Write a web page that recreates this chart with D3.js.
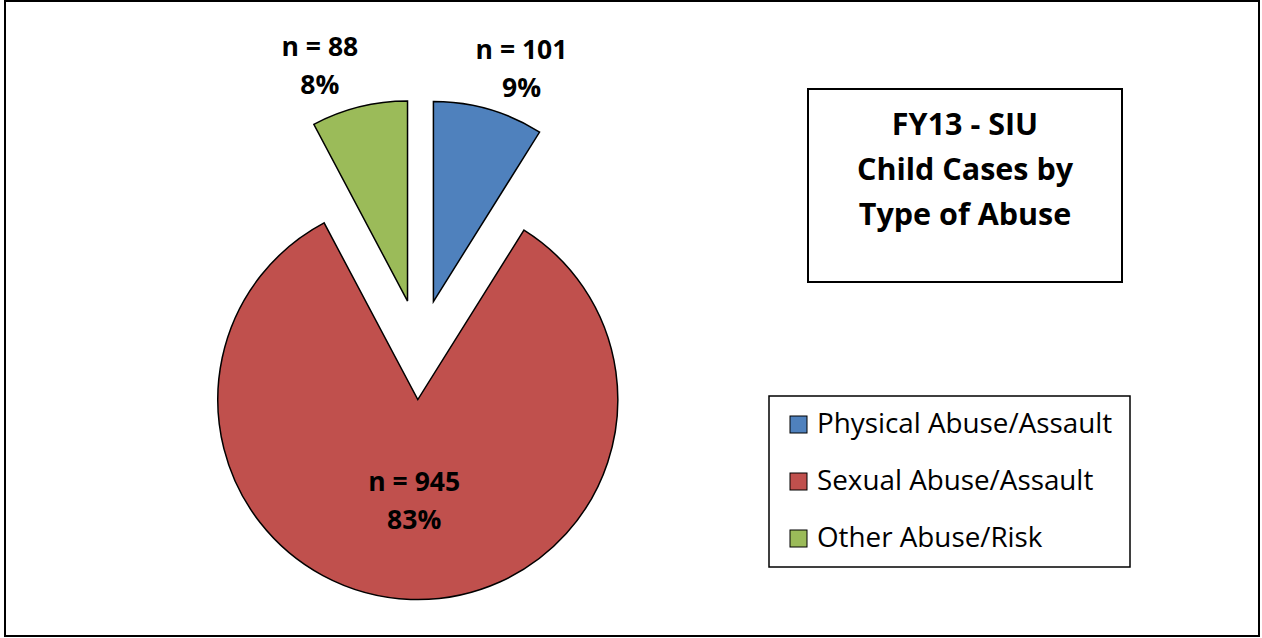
<!DOCTYPE html>
<html>
<head>
<meta charset="utf-8">
<script src="https://cdn.jsdelivr.net/npm/d3@7"></script>
<style>
  body { margin: 0; background: #fff; }
  text { font-family: "Open Sans", sans-serif; }
</style>
</head>
<body>
<div id="vis"></div>
<script>
// chart data
var categories = ['Physical Abuse/Assault', 'Sexual Abuse/Assault', 'Other Abuse/Risk'];
var counts = [101, 945, 88];
var percents = ['9%', '83%', '8%'];
var colors = ['#4F81BD', '#C0504D', '#9BBB59'];
var titleLines = ['FY13 - SIU', 'Child Cases by', 'Type of Abuse'];

var width = 1262;
var height = 638;

var svg = d3.select('#vis').append('svg')
  .attr('width', width)
  .attr('height', height);

// outer frame
svg.append('rect')
  .attr('x', 5).attr('y', 1)
  .attr('width', 1254).attr('height', 635)
  .attr('fill', '#fff')
  .attr('stroke', '#000')
  .attr('stroke-width', 2);

// pie settings
var center = {x: 419.6, y: 349.6};
var radius = 200;
var explode = 50;

var data = categories.map(function(c, i) {
  return {name: c, value: counts[i], pct: percents[i], color: colors[i]};
});

var pie = d3.pie()
  .sort(null)
  .value(function(d) { return d.value; });

var arcs = pie(data);

var arc = d3.arc().innerRadius(0).outerRadius(radius);

// direction of each slice's middle
function midDir(a) {
  var m = (a.startAngle + a.endAngle) / 2;
  return {x: Math.sin(m), y: -Math.cos(m)};
}

var slices = svg.selectAll('.slice')
  .data(arcs)
  .enter()
  .append('g')
  .attr('class', 'slice')
  .attr('transform', function(d) {
    var dir = midDir(d);
    return 'translate(' + (center.x + dir.x * explode) + ',' + (center.y + dir.y * explode) + ')';
  });

slices.append('path')
  .attr('d', arc)
  .attr('fill', function(d) { return d.data.color; })
  .attr('stroke', '#000')
  .attr('stroke-width', 1.5)
  .attr('stroke-linejoin', 'miter');

// data labels
var fontLabel = 26.5;
var total = d3.sum(counts);
slices.each(function(d) {
  var g = d3.select(this);
  var dir = midDir(d);
  var cx, cy;
  if (d.data.value / total > 0.5) {
    // big slice: label inside at the centroid
    var c = arc.centroid(d);
    cx = c[0]; cy = c[1] + 1;
  } else {
    // small slices: outside end
    cx = dir.x * 243 + (dir.x > 0 ? 21 : -29);
    cy = dir.y * 243;
  }
  var t = g.append('text')
    .attr('text-anchor', 'middle')
    .attr('font-weight', 'bold')
    .attr('font-size', fontLabel)
    .attr('fill', '#000');
  t.append('tspan').attr('x', cx).attr('y', cy - 9).text('n = ' + d.data.value);
  t.append('tspan').attr('x', cx).attr('y', cy + 29).text(d.data.pct);
});

// title box
svg.append('rect')
  .attr('x', 808).attr('y', 89)
  .attr('width', 314).attr('height', 193)
  .attr('fill', '#fff')
  .attr('stroke', '#000')
  .attr('stroke-width', 2);

svg.append('g').selectAll('text')
  .data(titleLines)
  .enter()
  .append('text')
  .attr('x', 965)
  .attr('y', function(d, i) { return 135 + i * 45; })
  .attr('text-anchor', 'middle')
  .attr('font-weight', 'bold')
  .attr('font-size', 30.5)
  .text(function(d) { return d; });

// legend
svg.append('rect')
  .attr('x', 769).attr('y', 396)
  .attr('width', 361).attr('height', 171)
  .attr('fill', '#fff')
  .attr('stroke', '#000')
  .attr('stroke-width', 1.5);

var legend = svg.append('g').selectAll('g')
  .data(data)
  .enter()
  .append('g')
  .attr('transform', function(d, i) { return 'translate(790,' + (416 + i * 57) + ')'; });

legend.append('rect')
  .attr('width', 17).attr('height', 17)
  .attr('fill', function(d) { return d.color; })
  .attr('stroke', '#000')
  .attr('stroke-width', 1);

legend.append('text')
  .attr('x', 27)
  .attr('y', 17)
  .attr('font-size', 27.8)
  .text(function(d) { return d.name; });
</script>
</body>
</html>
